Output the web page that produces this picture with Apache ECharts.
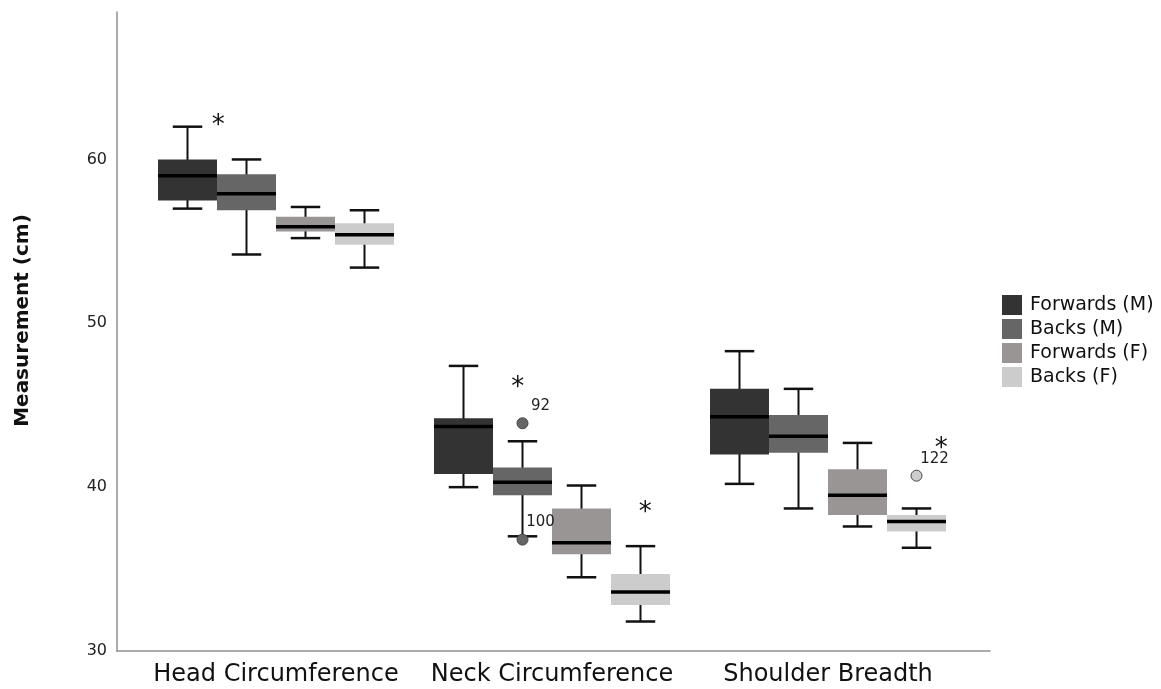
<!DOCTYPE html>
<html>
<head>
<meta charset="utf-8">
<script src="https://cdn.jsdelivr.net/npm/echarts@6/dist/echarts.min.js"></script>
<style>
html,body{margin:0;padding:0;background:#fff;}
#chart{width:1161px;height:689px;}
</style>
</head>
<body>
<div id="chart"></div>
<script>
// ---- data ----
const categories = ['Head Circumference', 'Neck Circumference', 'Shoulder Breadth'];
const groups = ['Forwards (M)', 'Backs (M)', 'Forwards (F)', 'Backs (F)'];
// [min, Q1, median, Q3, max] per category
const forwardsM = [[57.0, 57.5, 59.0, 60.0, 62.0], [40.0, 40.8, 43.7, 44.2, 47.4], [40.2, 42.0, 44.3, 46.0, 48.3]];
const backsM    = [[54.2, 56.9, 57.9, 59.1, 60.0], [37.0, 39.5, 40.3, 41.2, 42.8], [38.7, 42.1, 43.1, 44.4, 46.0]];
const forwardsF = [[55.2, 55.6, 55.9, 56.5, 57.1], [34.5, 35.9, 36.6, 38.7, 40.1], [37.6, 38.3, 39.5, 41.1, 42.7]];
const backsF    = [[53.4, 54.8, 55.4, 56.1, 56.9], [31.8, 32.8, 33.6, 34.7, 36.4], [36.3, 37.3, 37.9, 38.3, 38.7]];
// outliers: [category index, group index, value, case label]
const outliers = [[1, 1, 43.9, '92'], [1, 1, 36.8, '100'], [2, 3, 40.7, '122']];
// significance markers: [category index, group index, value, horizontal shift in box widths]
const sigMarks = [[0, 0, 62.4, 0.52], [1, 1, 46.4, -0.08], [1, 3, 38.8, 0.08], [2, 3, 42.7, 0.42]];
const yTicks = { min: 30, max: 69, interval: 10 };

// ---- style ----
const colors = ['#333333', '#666666', '#999595', '#cccccc'];
const groupData = [forwardsM, backsM, forwardsF, backsF];
const BOX_FRAC = 59 / 276;
const FONT = 'DejaVu Sans';

function makeBoxRender(k) {
  return function (params, api) {
    const cat = api.value(0);
    const band = api.size([1, 0])[0];
    const bw = band * BOX_FRAC;
    const c = api.coord([cat, api.value(3)]);
    const x = c[0] + (k - 1.5) * bw;
    const yMin = api.coord([cat, api.value(1)])[1];
    const yQ1 = api.coord([cat, api.value(2)])[1];
    const yMed = c[1];
    const yQ3 = api.coord([cat, api.value(4)])[1];
    const yMax = api.coord([cat, api.value(5)])[1];
    const capW = bw * 0.5;
    const color = colors[k];
    return {
      type: 'group',
      children: [
        { type: 'line', shape: { x1: x, y1: yMax, x2: x, y2: yMin }, style: { stroke: '#111', lineWidth: 2 } },
        { type: 'line', shape: { x1: x - capW / 2, y1: yMax, x2: x + capW / 2, y2: yMax }, style: { stroke: '#111', lineWidth: 2.5 } },
        { type: 'line', shape: { x1: x - capW / 2, y1: yMin, x2: x + capW / 2, y2: yMin }, style: { stroke: '#111', lineWidth: 2.5 } },
        { type: 'rect', shape: { x: x - bw / 2, y: yQ3, width: bw, height: yQ1 - yQ3 }, style: { fill: color } },
        { type: 'line', shape: { x1: x - bw / 2, y1: yMed, x2: x + bw / 2, y2: yMed }, style: { stroke: '#000', lineWidth: 3.5 } }
      ]
    };
  };
}

const boxSeries = groups.map(function (name, k) {
  return {
    name: name,
    type: 'custom',
    xAxisIndex: 1,
    yAxisIndex: 1,
    color: colors[k],
    itemStyle: { color: colors[k] },
    renderItem: makeBoxRender(k),
    encode: { x: 0, y: [1, 2, 3, 4, 5] },
    data: groupData[k].map(function (d, i) { return [i].concat(d); }),
    z: 2
  };
});

const outlierSeries = {
  type: 'custom',
  xAxisIndex: 1,
  yAxisIndex: 1,
  silent: true,
  z: 3,
  encode: { x: 0, y: 1 },
  data: outliers.map(function (o) { return [o[0], o[2], o[1], o[3]]; }),
  renderItem: function (params, api) {
    const cat = api.value(0);
    const g = api.value(2);
    const band = api.size([1, 0])[0];
    const bw = band * BOX_FRAC;
    const c = api.coord([cat, api.value(1)]);
    const x = c[0] + (g - 1.5) * bw;
    const lbl = outliers[params.dataIndex][3];
    return {
      type: 'group',
      children: [
        { type: 'circle', shape: { cx: x, cy: c[1], r: 5.5 }, style: { fill: colors[g], stroke: '#444', lineWidth: 1 } },
        { type: 'text', x: x + 18, y: c[1] - 17, style: { text: lbl, fill: '#222', font: '15px "' + FONT + '"', align: 'center', verticalAlign: 'middle' } }
      ]
    };
  }
};

const sigSeries = {
  type: 'custom',
  xAxisIndex: 1,
  yAxisIndex: 1,
  silent: true,
  z: 3,
  encode: { x: 0, y: 1 },
  data: sigMarks.map(function (s) { return [s[0], s[2], s[1], s[3]]; }),
  renderItem: function (params, api) {
    const cat = api.value(0);
    const g = api.value(2);
    const band = api.size([1, 0])[0];
    const bw = band * BOX_FRAC;
    const c = api.coord([cat, api.value(1)]);
    const x = c[0] + (g - 1.5 + api.value(3)) * bw;
    return {
      type: 'text', x: x, y: c[1] + 6,
      style: { text: '*', fill: '#111', font: '26px "' + FONT + '"', align: 'center', verticalAlign: 'middle' }
    };
  }
};

const chart = echarts.init(document.getElementById('chart'), null, { renderer: 'canvas' });
chart.setOption({
  backgroundColor: '#ffffff',
  animation: false,
  textStyle: { fontFamily: FONT },
  grid: [
    { left: 117, top: 12, width: 873, height: 639 },
    { left: 138, top: 12, width: 828, height: 639 }
  ],
  xAxis: [
    {
      gridIndex: 0, type: 'value', min: 0, max: 1,
      axisLine: { show: true, lineStyle: { color: '#8f8f8f', width: 1.5 } },
      axisTick: { show: false }, axisLabel: { show: false }, splitLine: { show: false }
    },
    {
      gridIndex: 1, type: 'category', data: categories,
      axisLine: { show: false }, axisTick: { show: false }, splitLine: { show: false },
      axisLabel: { interval: 0, fontSize: 24, color: '#111', margin: 12, fontFamily: FONT }
    }
  ],
  yAxis: [
    {
      gridIndex: 0, type: 'value', min: yTicks.min, max: yTicks.max, interval: yTicks.interval,
      axisLine: { show: true, lineStyle: { color: '#8f8f8f', width: 1.5 } },
      axisTick: { show: false }, splitLine: { show: false },
      axisLabel: { fontSize: 16, color: '#222', margin: 10, showMaxLabel: false, fontFamily: FONT },
      name: 'Measurement (cm)', nameLocation: 'middle', nameGap: 84, nameRotate: 90,
      nameTextStyle: { fontSize: 20, fontWeight: 'bold', color: '#111', fontFamily: FONT, padding: [0, 0, 0, 22] }
    },
    {
      gridIndex: 1, type: 'value', min: yTicks.min, max: yTicks.max, show: false, splitLine: { show: false }
    }
  ],
  legend: {
    data: groups,
    orient: 'vertical',
    left: 1002,
    top: 295,
    padding: 0,
    icon: 'rect',
    itemWidth: 20,
    itemHeight: 20,
    itemGap: 4,
    selectedMode: false,
    textStyle: { fontSize: 19, color: '#111', fontFamily: FONT, padding: [0, 0, 0, 3] }
  },
  series: boxSeries.concat([outlierSeries, sigSeries])
});
</script>
</body>
</html>
